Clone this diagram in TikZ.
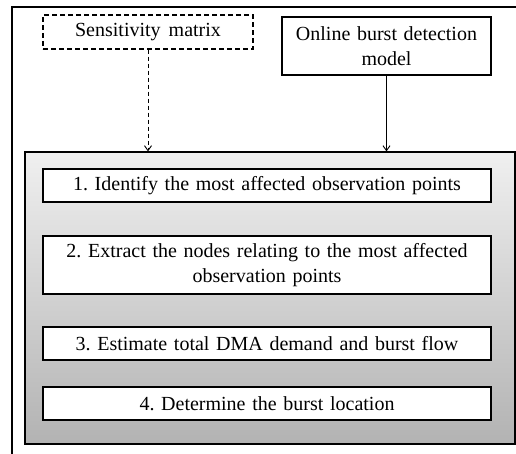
\documentclass[tikz,border=0pt]{standalone}
\usepackage{fontspec}
\setmainfont{Liberation Serif}
\usetikzlibrary{positioning, arrows.meta}

\newcommand{\boxfont}{\fontsize{20}{25}\selectfont\frenchspacing\spaceskip=8pt plus 2pt\relax}

\begin{document}
\begin{tikzpicture}[x=1pt, y=-1pt]
        % ================= styles =================
        \tikzset{
            % input boxes on top
            srcbox/.style={draw=black, line width=1.1pt, fill=white, align=center, inner sep=0pt, font=\boxfont},
            % the four steps
            stepbox/.style={srcbox, minimum width=448pt, text width=440pt},
            % shaded panel
            panel/.style={draw=black, line width=1.1pt, top color=black!6, bottom color=black!30},
            % dashes of the sensitivity part
            dashline/.style={dash pattern=on 5pt off 3pt},
            % arrows
            flow/.style={-{Straight Barb[length=5pt, width=7pt]}, line width=0.9pt, black}
        }

        % ================= frame =================
        \clip (0,0) rectangle (516,454);
        \useasboundingbox (0,0) rectangle (516,454);
        \draw[line width=1.8pt] (12,7) rectangle (540,480);

        % ================= inputs =================
        \node[srcbox, dashline, minimum width=210pt, minimum height=34pt] (sens) at (148,32) {Sensitivity matrix};
        \node[srcbox, minimum width=209pt, minimum height=58pt, text width=200pt] (online) at (386.5,46)
            {Online burst detection\\model};

        % ================= panel and steps =================
        \node[panel, minimum width=490pt, minimum height=292pt] (pan) at (270,298) {};

        \node[stepbox, minimum height=33pt] (s1) at (267,185.5) {1. Identify the most affected observation points};
        \node[stepbox, minimum height=58pt] (s2) at (267,265)
            {2. Extract the nodes relating to the most affected\\observation points};
        \node[stepbox, minimum height=33pt] (s3) at (267,343.5) {3. Estimate total DMA demand and burst flow};
        \node[stepbox, minimum height=33pt] (s4) at (267,403.5) {4. Determine the burst location};

        % ================= arrows =================
        \draw[flow, dash pattern=on 4pt off 3pt] (sens.south) -- (sens.south |- pan.north);
        \draw[flow] (online.south) -- (online.south |- pan.north);

    \end{tikzpicture}
\end{document}
